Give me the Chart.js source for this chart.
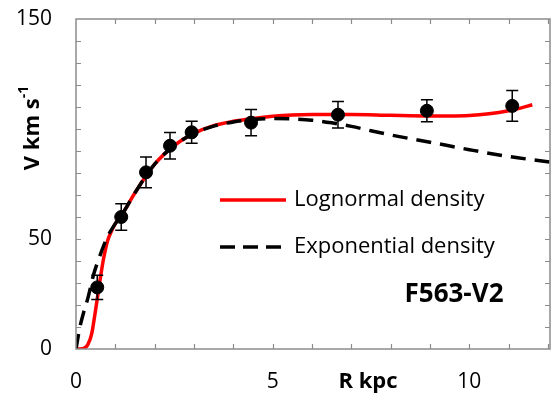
<!DOCTYPE html>
<html>
<head>
<meta charset="utf-8">
<script src="https://cdn.jsdelivr.net/npm/chart.js@4/dist/chart.umd.min.js"></script>
<style>
  html, body { margin: 0; padding: 0; background: #fff; }
  #wrap { width: 559px; height: 395px; }
</style>
</head>
<body>
<div id="wrap"><canvas id="rcChart" width="559" height="395"></canvas></div>
<script>
// observed rotation velocities
const obsR = [0.54, 1.15, 1.78, 2.39, 2.94, 4.45, 6.66, 8.92, 11.09];
const obsV = [28, 60, 80.3, 92.4, 98.5, 102.9, 106.5, 108.3, 110.5];
const obsErr = [5.5, 6, 7, 6, 5, 6, 6, 5, 7];

// lognormal density model (red)
const logR = [0, 0.1, 0.2, 0.3, 0.4, 0.5, 0.6, 0.7, 0.8, 0.9, 1.0, 1.2, 1.5, 2.0, 2.5, 3.0, 3.5, 4.0, 4.5, 5.0, 5.5, 6.0, 7.0, 8.0, 9.0, 9.5, 10.0, 10.5, 11.0, 11.3, 11.6];
const logV = [0, 0, 0.3, 2, 7, 18, 30, 41, 49, 53.5, 57, 62, 71, 84, 92.5, 98, 101.5, 103.5, 104.8, 105.8, 106.4, 106.6, 106.6, 106.2, 105.9, 105.9, 106.1, 106.9, 108.3, 109.5, 111];

// exponential density model (black dashed)
const expR = [0, 0.1, 0.2, 0.3, 0.45, 0.6, 0.8, 1.0, 1.2, 1.5, 2.0, 2.5, 3.0, 3.5, 4.0, 4.5, 5.0, 5.5, 6.0, 6.5, 7.0, 7.5, 8.0, 9.0, 10.0, 11.0, 12.05];
const expV = [0, 10, 17, 23, 34, 42, 51, 57, 62, 71, 84, 92.5, 98, 101.3, 103.2, 104.3, 104.8, 104.6, 104, 102.8, 101.2, 99.2, 97.3, 94, 90.6, 87.5, 85];

const xTicks = [0, 5, 10];
const yTicks = [0, 50, 150];
const legendNames = ['Lognormal density', 'Exponential density'];
const galaxyName = 'F563-V2';

const FONT = '"Open Sans", sans-serif';
const toPts = (xs, ys) => xs.map((x, i) => ({ x: x, y: ys[i] }));

// frame, inward ticks, labels, error bars and the text boxes
const decor = {
    id: 'decor',
    afterDatasetsDraw(chart) {
        const ctx = chart.ctx;
        const xs = chart.scales.x, ys = chart.scales.y;

        // error bars
        ctx.save();
        ctx.strokeStyle = '#000';
        ctx.lineWidth = 1.5;
        obsR.forEach((r, i) => {
            const px = xs.getPixelForValue(r);
            const top = ys.getPixelForValue(obsV[i] + obsErr[i]);
            const bot = ys.getPixelForValue(obsV[i] - obsErr[i]);
            ctx.beginPath();
            ctx.moveTo(px, top); ctx.lineTo(px, bot);
            ctx.moveTo(px - 6, top); ctx.lineTo(px + 6, top);
            ctx.moveTo(px - 6, bot); ctx.lineTo(px + 6, bot);
            ctx.stroke();
        });
        ctx.restore();
    },
    afterDraw(chart) {
        const ctx = chart.ctx;
        const xs = chart.scales.x, ys = chart.scales.y;
        const a = chart.chartArea;
        ctx.save();

        // box
        ctx.strokeStyle = '#8c8c8c';
        ctx.lineWidth = 1.5;
        ctx.strokeRect(a.left, a.top, a.right - a.left, a.bottom - a.top);

        // inward ticks
        ctx.beginPath();
        for (let v = 1; v <= 12; v++) {
            const px = Math.round(xs.getPixelForValue(v)) + 0.5;
            if (px >= a.right - 1) break;
            ctx.moveTo(px, a.bottom); ctx.lineTo(px, a.bottom - 5);
            ctx.moveTo(px, a.top); ctx.lineTo(px, a.top + 5);
        }
        for (let v = 10; v < 150; v += 10) {
            const py = Math.round(ys.getPixelForValue(v)) + 0.5;
            ctx.moveTo(a.left, py); ctx.lineTo(a.left + 5, py);
            ctx.moveTo(a.right, py); ctx.lineTo(a.right - 5, py);
        }
        ctx.lineWidth = 1.2;
        ctx.stroke();

        // tick labels
        ctx.fillStyle = '#000';
        ctx.font = '21px ' + FONT;
        ctx.textBaseline = 'middle';
        ctx.textAlign = 'right';
        yTicks.forEach(v => ctx.fillText(String(v), 52, ys.getPixelForValue(v)));
        ctx.textAlign = 'center';
        xTicks.forEach(v => ctx.fillText(String(v), xs.getPixelForValue(v), 382));

        // axis titles
        ctx.font = 'bold 22px ' + FONT;
        ctx.fillText('R kpc', 368, 382);

        ctx.save();
        ctx.translate(33, 128);
        ctx.rotate(-Math.PI / 2);
        const main = 'V km s';
        ctx.font = 'bold 22px ' + FONT;
        const w1 = ctx.measureText(main).width;
        ctx.font = 'bold 14px ' + FONT;
        const w2 = ctx.measureText('-1').width;
        const start = -(w1 + w2) / 2;
        ctx.textAlign = 'left';
        ctx.font = 'bold 22px ' + FONT;
        ctx.fillText(main, start, 0);
        ctx.font = 'bold 14px ' + FONT;
        ctx.fillText('-1', start + w1, -9);
        ctx.restore();

        // legend
        ctx.lineWidth = 3.5;
        ctx.strokeStyle = '#ff0000';
        ctx.beginPath();
        ctx.moveTo(220, 200); ctx.lineTo(286, 200);
        ctx.stroke();
        ctx.strokeStyle = '#000';
        ctx.setLineDash([15, 8]);
        ctx.beginPath();
        ctx.moveTo(220, 247); ctx.lineTo(286, 247);
        ctx.stroke();
        ctx.setLineDash([]);

        ctx.font = '22px ' + FONT;
        ctx.textAlign = 'left';
        ctx.fillText(legendNames[0], 294, 200);
        ctx.fillText(legendNames[1], 294, 247);

        ctx.font = 'bold 26px ' + FONT;
        ctx.textAlign = 'center';
        ctx.fillText(galaxyName, 454, 295);

        ctx.restore();
    }
};

const ctx = document.getElementById('rcChart').getContext('2d');
new Chart(ctx, {
    type: 'scatter',
    data: {
        datasets: [
            {
                label: 'Observed',
                data: toPts(obsR, obsV),
                backgroundColor: '#000',
                borderColor: '#000',
                pointRadius: 6.5,
                showLine: false
            },
            {
                label: legendNames[1],
                data: toPts(expR, expV),
                borderColor: '#000',
                borderWidth: 3.5,
                borderDash: [15, 9],
                pointRadius: 0,
                showLine: true,
                cubicInterpolationMode: 'monotone'
            },
            {
                label: legendNames[0],
                data: toPts(logR, logV),
                borderColor: '#ff0000',
                borderWidth: 3.5,
                pointRadius: 0,
                showLine: true,
                cubicInterpolationMode: 'monotone'
            }
        ]
    },
    options: {
        responsive: false,
        animation: false,
        layout: { padding: { left: 76, right: 9, top: 19, bottom: 46 } },
        plugins: {
            legend: { display: false },
            tooltip: { enabled: false }
        },
        scales: {
            x: { type: 'linear', min: 0, max: 12.05, display: false },
            y: { type: 'linear', min: 0, max: 150, display: false }
        }
    },
    plugins: [decor]
});
</script>
</body>
</html>
